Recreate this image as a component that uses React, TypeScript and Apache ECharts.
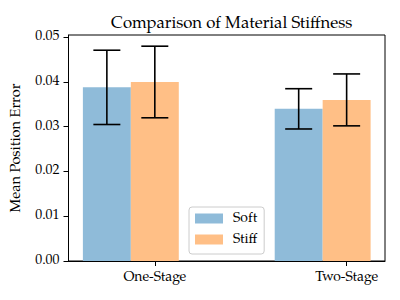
import React, { useEffect, useRef } from "react";
import * as echarts from "echarts";

const categories = ["One-Stage", "Two-Stage"];
const seriesNames = ["Soft", "Stiff"];
const softMeans = [0.0388, 0.034];
const softErrors = [0.0083, 0.0045];
const stiffMeans = [0.04, 0.036];
const stiffErrors = [0.008, 0.0058];
const yTicks = [0, 0.01, 0.02, 0.03, 0.04, 0.05];

const BAR_W = 0.25;
const FONT = "TeX Gyre Pagella";
const colors = ["#8fbbd9", "#ffbf86"];

export default function App() {
  const ref = useRef<HTMLDivElement>(null);
  useEffect(() => {
    if (!ref.current) return;
    const chart = echarts.init(ref.current, undefined, { renderer: "svg" });
    const groups = [
      { name: seriesNames[0], means: softMeans, errs: softErrors, offset: -BAR_W, color: colors[0] },
      { name: seriesNames[1], means: stiffMeans, errs: stiffErrors, offset: 0, color: colors[1] },
    ];
    const barSeries = groups.map((g) => ({
      type: "custom",
      name: g.name,
      itemStyle: { color: g.color },
      z: 2,
      data: categories.map((_, i) => [i + g.offset, g.means[i]]),
      renderItem: (params: any, api: any) => {
        const x = api.value(0);
        const y = api.value(1);
        const p0 = api.coord([x - BAR_W / 2, 0]);
        const p1 = api.coord([x + BAR_W / 2, y]);
        return {
          type: "rect",
          shape: { x: p0[0], y: p1[1], width: p1[0] - p0[0], height: p0[1] - p1[1] },
          style: { fill: g.color },
        };
      },
    }));
    const errSeries = groups.map((g) => ({
      type: "custom",
      z: 5,
      silent: true,
      data: categories.map((_, i) => [i + g.offset, g.means[i], g.errs[i]]),
      renderItem: (params: any, api: any) => {
        const x = api.value(0);
        const m = api.value(1);
        const e = api.value(2);
        const top = api.coord([x, m + e]);
        const bot = api.coord([x, m - e]);
        const cap = 13.5;
        const st = { stroke: "#000", lineWidth: 1.6 };
        return {
          type: "group",
          children: [
            { type: "line", shape: { x1: top[0], y1: top[1], x2: bot[0], y2: bot[1] }, style: st },
            { type: "line", shape: { x1: top[0] - cap, y1: top[1], x2: top[0] + cap, y2: top[1] }, style: st },
            { type: "line", shape: { x1: bot[0] - cap, y1: bot[1], x2: bot[0] + cap, y2: bot[1] }, style: st },
          ],
        };
      },
    }));
    chart.setOption({
      animation: false,
      textStyle: { fontFamily: FONT },
      title: {
        text: "Comparison of Material Stiffness",
        left: 226.7,
        textAlign: "center",
        top: 11,
        textStyle: { fontFamily: FONT, fontSize: 16.7, fontWeight: "normal", color: "#000" },
      },
      grid: {
        left: 68.5,
        right: 15,
        top: 35,
        bottom: 39,
        show: true,
        borderColor: "#000",
        borderWidth: 1,
      },
      legend: {
        data: seriesNames,
        orient: "vertical",
        left: 189,
        top: 207,
        icon: "rect",
        itemWidth: 28,
        itemHeight: 10,
        itemGap: 7,
        padding: [4.5, 7, 7.5, 6],
        backgroundColor: "rgba(255,255,255,0.8)",
        borderColor: "#cccccc",
        borderWidth: 1,
        borderRadius: 3,
        formatter: "{t|{name}}",
        textStyle: {
          fontFamily: FONT,
          fontSize: 13.9,
          color: "#000",
          rich: { t: { fontFamily: FONT, fontSize: 13.9, color: "#000", padding: [0, 0, 0, 5] } },
        },
      },
      xAxis: {
        type: "value",
        min: -0.45,
        max: 1.2,
        splitLine: { show: false },
        axisLine: { show: true, onZero: false, lineStyle: { color: "#000", width: 1 } },
        axisTick: {
          show: true,
          customValues: categories.map((_, i) => i),
          length: 5,
          lineStyle: { color: "#000" },
        },
        axisLabel: {
          customValues: categories.map((_, i) => i),
          formatter: (v: number) => categories[Math.round(v)] ?? "",
          margin: 10,
          fontFamily: FONT,
          fontSize: 13.9,
          color: "#000",
        },
      },
      yAxis: {
        type: "value",
        min: 0,
        max: 0.0505,
        name: "Mean Position Error",
        nameLocation: "middle",
        nameGap: 33,
        nameTextStyle: { fontFamily: FONT, fontSize: 14.5, color: "#000" },
        splitLine: { show: false },
        axisLine: { show: true, onZero: false, lineStyle: { color: "#000", width: 1 } },
        axisTick: { show: true, customValues: yTicks, length: 5, lineStyle: { color: "#000" } },
        axisLabel: {
          customValues: yTicks,
          formatter: (v: number) => v.toFixed(2),
          margin: 9,
          fontFamily: FONT,
          fontSize: 13.9,
          color: "#000",
        },
      },
      series: [...barSeries, ...errSeries],
    });
    return () => chart.dispose();
  }, []);
  return <div ref={ref} style={{ width: 400, height: 300, position: "absolute", left: 0, top: 0 }} />;
}
